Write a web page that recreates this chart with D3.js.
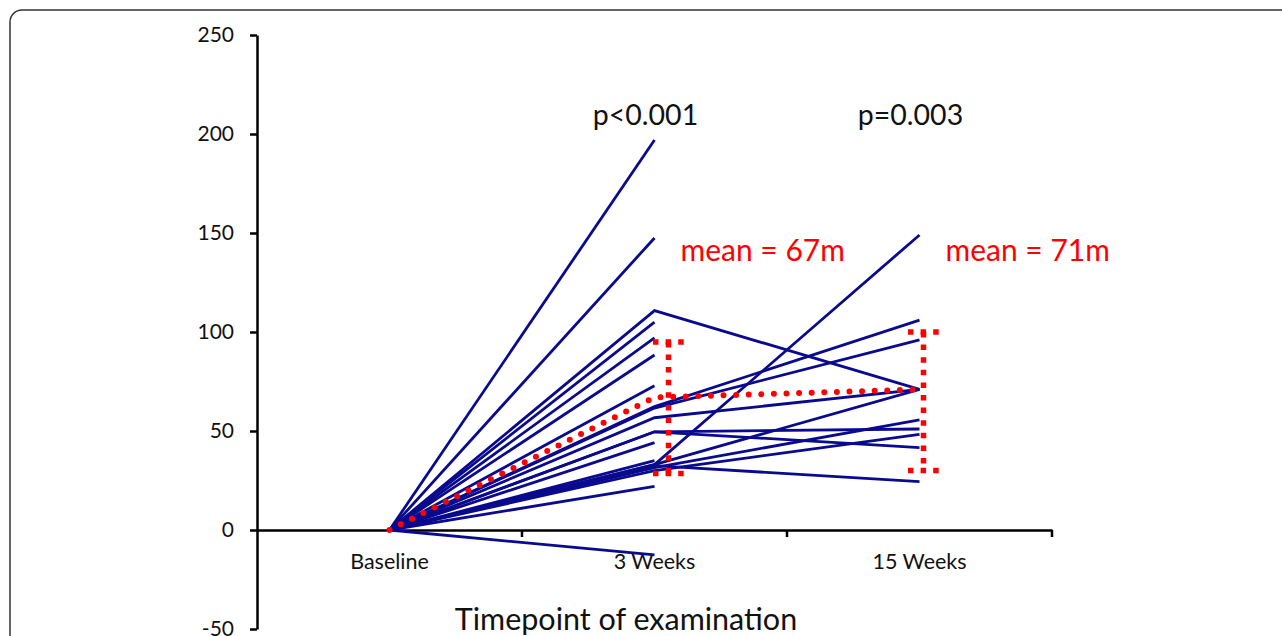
<!DOCTYPE html>
<html>
<head>
<meta charset="utf-8">
<script src="https://cdn.jsdelivr.net/npm/d3@7"></script>
<style>
  html, body { margin: 0; padding: 0; background: #fff; }
  svg { display: block; }
  text { font-family: Lato, "Open Sans", sans-serif; }
</style>
</head>
<body>
<svg id="vis"></svg>
<script>
// timepoints on the x axis
var timepoints = ["Baseline", "3 Weeks", "15 Weeks"];

// change in walking distance (m) per patient
var baseline = [0, 0, 0, 0, 0, 0, 0, 0, 0, 0, 0, 0, 0, 0, 0, 0, 0, 0, 0, 0, 0];
var week3 = [197, 147.5, 110.8, 105, 97, 88.4, 72.9, 62.3, 61.6, 56.7, 49.6, 49.6, 44.1, 35, 33, 33, 31.5, 30, 32.5, 22, -12.6];
var week15 = [null, null, 71, null, null, null, null, 106, 96, 71, 51, 41.6, null, null, 149, 71, 55.6, 48.3, 24.4, null, null];

// group mean and the bars around it
var meanValues = [0, 67, 71];
var barLow = [null, 28.5, 30];
var barHigh = [null, 95, 100];

var yTicks = [-50, 0, 50, 100, 150, 200, 250];
var pLabels = [null, "p<0.001", "p=0.003"];
var meanLabels = [null, "mean = 67m", "mean = 71m"];

var W = 1282, H = 636;
var svg = d3.select("#vis").attr("width", W).attr("height", H);

// frame, only top and left edge fall inside the picture
svg.append("rect")
  .attr("x", 10).attr("y", 10)
  .attr("width", 1500).attr("height", 900)
  .attr("rx", 12)
  .attr("fill", "none")
  .attr("stroke", "#333")
  .attr("stroke-width", 1.5);

var x = d3.scaleBand().domain(timepoints).range([257, 1052]).padding(0);
var y = d3.scaleLinear().domain([-50, 250]).range([629, 35]);

function cx(t) { return x(t) + x.bandwidth() / 2; }

// y axis
var yAxis = svg.append("g")
  .attr("transform", "translate(" + x.range()[0] + ",0)")
  .call(d3.axisLeft(y).tickValues(yTicks).tickSize(7).tickSizeOuter(0).tickPadding(16));
yAxis.select(".domain").attr("stroke", "#000").attr("stroke-width", 2.5);
yAxis.selectAll(".tick line").attr("stroke", "#000").attr("stroke-width", 2.5);
yAxis.selectAll("text")
  .attr("fill", "#111")
  .style("font-size", "21px")
  .style("font-family", "Lato, sans-serif")
  .text(function(d) { return d < 0 ? "-" + Math.abs(d) : d; });

// x axis sits on zero
var xAxis = svg.append("g")
  .attr("transform", "translate(0," + y(0) + ")")
  .call(d3.axisBottom(x).tickSize(0).tickPadding(24));
xAxis.select(".domain").attr("stroke", "#000").attr("stroke-width", 2.5);
xAxis.selectAll("text")
  .attr("fill", "#111")
  .style("font-size", "21.5px")
  .style("font-family", "Lato, sans-serif");

xAxis.selectAll(".bound")
  .data(timepoints)
  .enter().append("line")
  .attr("class", "bound")
  .attr("x1", function(d) { return x(d) + x.bandwidth(); })
  .attr("x2", function(d) { return x(d) + x.bandwidth(); })
  .attr("y1", 0).attr("y2", 7)
  .attr("stroke", "#000")
  .attr("stroke-width", 2.5);

svg.append("text")
  .attr("x", 626).attr("y", 630)
  .attr("text-anchor", "middle")
  .attr("fill", "#111")
  .style("font-size", "30.5px")
  .text("Timepoint of examination");

// one polyline per patient
var patients = week3.map(function(v, i) {
  var pts = [[timepoints[0], baseline[i]], [timepoints[1], v]];
  if (week15[i] != null) pts.push([timepoints[2], week15[i]]);
  return pts;
});

var line = d3.line()
  .x(function(d) { return cx(d[0]); })
  .y(function(d) { return y(d[1]); });

svg.append("g").selectAll("path")
  .data(patients)
  .enter().append("path")
  .attr("d", line)
  .attr("fill", "none")
  .attr("stroke", "#0a0a8f")
  .attr("stroke-width", 2.8)
  .attr("stroke-linejoin", "miter");

// mean line as round red dots
svg.append("path")
  .datum(meanValues.map(function(v, i) { return [timepoints[i], v]; }))
  .attr("d", line)
  .attr("fill", "none")
  .attr("stroke", "#ff0000")
  .attr("stroke-width", 6)
  .attr("stroke-linecap", "round")
  .attr("stroke-dasharray", "0 12.6");

// square dotted bars
var barShift = [0, 14, 4];
var bars = svg.append("g");
timepoints.forEach(function(t, i) {
  if (barLow[i] == null) return;
  var bx = cx(t) + barShift[i];
  var segs = [
    [[bx, y(barHigh[i])], [bx, y(barLow[i])]],
    [[bx - 15.5, y(barHigh[i])], [bx + 15.5, y(barHigh[i])]],
    [[bx - 15.5, y(barLow[i])], [bx + 15.5, y(barLow[i])]]
  ];
  bars.selectAll(null)
    .data(segs)
    .enter().append("path")
    .attr("d", function(d) { return d3.line()(d); })
    .attr("fill", "none")
    .attr("stroke", "#ff0000")
    .attr("stroke-width", 5.5)
    .attr("stroke-dasharray", "5.5 7.1");
});

// p values and means
svg.append("g").selectAll("text")
  .data(timepoints)
  .enter().append("text")
  .filter(function(d, i) { return pLabels[i] != null; })
  .attr("x", function(d) { return cx(d) - 9; })
  .attr("y", 125)
  .attr("text-anchor", "middle")
  .attr("fill", "#111")
  .style("font-size", "28.5px")
  .text(function(d) { return pLabels[timepoints.indexOf(d)]; });

svg.append("g").selectAll("text")
  .data(timepoints)
  .enter().append("text")
  .filter(function(d, i) { return meanLabels[i] != null; })
  .attr("x", function(d) { return cx(d) + 26; })
  .attr("y", 261)
  .attr("fill", "#ff0000")
  .style("font-size", "30px")
  .text(function(d) { return meanLabels[timepoints.indexOf(d)]; });
</script>
</body>
</html>
